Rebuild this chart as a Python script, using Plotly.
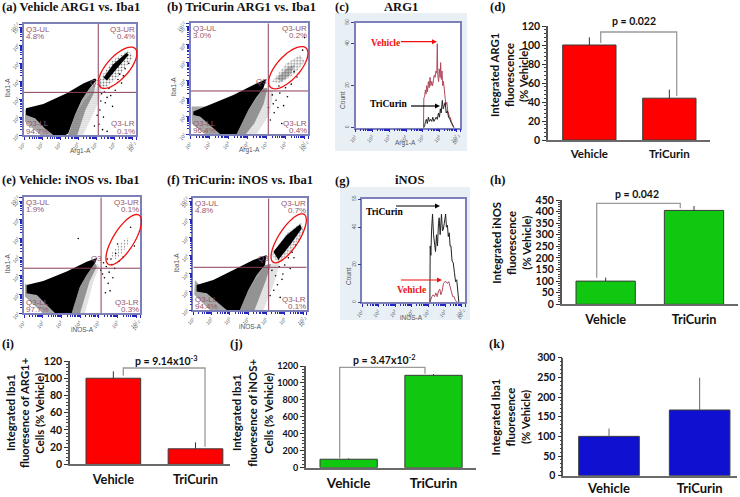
import math
import plotly.graph_objects as go

W, H = 740, 497
CATS = ["Vehicle", "TriCurin"]

# ---- bar panels: values
d_vals = [100, 44];   d_tops = [108, 53]
h_vals = [100, 405];  h_tops = [115, 424]
i_vals = [100, 18];   i_tops = [108, 25.5]
j_vals = [100, 1090]; j_tops = [110, 1105]
k_vals = [100, 167];  k_tops = [120, 249]

# ---- histogram panels (log10 intensity, count)
c_red_x = [5.03,5.05,5.1,5.14,5.18,5.22,5.27,5.32,5.37,5.42,5.47,5.52,5.57,5.62,5.67,5.72,5.77,5.82,5.85,5.88,5.93,5.97,6.02,6.05,6.09,6.13,6.17,6.22,6.27,6.32,6.37,6.42,6.47,6.52,6.57,6.62,6.68,6.74,6.84]
c_red_y = [0,14,15,18,16,20,17,22,19,24,20,22,20,23,25,24,27,26,40,25,22,28,24,31,23,27,20,22,16,14,11,12,8,7,5,5,3,2,0]
c_blk_x = [5.05,5.1,5.15,5.2,5.26,5.32,5.38,5.45,5.52,5.58,5.65,5.72,5.78,5.85,5.92,5.98,6.03,6.08,6.15,6.2,6.26,6.32,6.38,6.45,6.52,6.6,6.7,6.84]
c_blk_y = [0,1,3,4,2,5,3,4,3,5,3,4,5,4,7,5,9,7,13,9,11,12,7,8,5,4,2,0]
g_blk_x = [5.08,5.1,5.14,5.18,5.24,5.3,5.36,5.42,5.48,5.54,5.6,5.64,5.7,5.78,5.84,5.89,5.95,6.03,6.08,6.14,6.19,6.25,6.3,6.35,6.42,6.49,6.56,6.63,6.7,6.76,6.83]
g_blk_y = [0,30,25,38,47,36,31,27,36,30,42,45,36,47,38,39,42,47,40,41,35,37,30,30,22,21,16,11,12,5,0]
g_red_x = [5.08,5.14,5.2,5.28,5.36,5.44,5.52,5.6,5.68,5.74,5.82,5.9,5.98,6.06,6.14,6.22,6.3,6.38,6.46,6.54,6.62,6.72]
g_red_y = [0,2,3,4,3,5,3,6,7,4,6,10,11,11,10,11,8,5,3,3,1,0]

# ---- flow-cytometry clouds: outlines (log10 units)
a_main = [(1.11,2.49),(2.07,2.73),(3.36,3.33),(4.28,3.88),(4.93,4.16),(5.02,4.07),(4.56,3.51),(4.19,2.95),(3.82,2.12),(3.45,1.09),(3.3,1.0),(2.62,1.0),(2.16,1.37),(1.61,1.93),(1.11,2.12)]
a_right = [(4.38,2.95),(5.21,3.88),(5.30,3.33),(4.93,2.40),(4.28,1),(3.45,1),(3.82,2.12)]
a_inner = [(4.56,3.51),(5.0,3.95),(4.85,3.3),(4.4,2.4),(3.95,1),(3.45,1),(3.82,2.12),(4.19,2.95)]
a_left = [(1.05,2.45),(1.05,1.75),(1.9,1.0),(2.7,1.0),(1.61,1.93)]
a_ur_halo = [(5.21,4.16),(5.94,5.19),(6.77,5.74),(7.05,5.37),(6.31,4.35),(5.58,3.70),(5.21,3.60)]
a_ur_core = [(5.4,4.2),(5.94,4.95),(6.68,5.6),(6.8,5.48),(6.13,4.7),(5.6,4.05)]
a_dots_x = [5.3,5.5,5.6,5.2,5.9,5.4,5.7,6.2,6.3,6.4,6.6,5.25,5.45,5.15,5.8,6.05,6.5,5.35,6.8,5.05,4.9,5.6]
a_dots_y = [3.3,2.8,3.1,2.4,2.6,2.0,3.6,4.1,4.4,3.9,4.7,2.9,3.4,1.6,3.2,3.5,4.3,1.3,5.0,2.1,1.5,1.2]

b_main = [(1.14,2.27),(2.02,2.64),(3.25,3.20),(4.30,3.76),(5.0,4.09),(4.83,3.57),(4.48,3.10),(4.04,2.36),(3.69,1.61),(3.42,1),(2.55,1),(2.02,1.52),(1.49,1.99),(1.14,2.08)]
b_right = [(4.83,3.57),(5.35,3.48),(5.18,2.17),(4.48,1),(3.42,1),(4.04,2.36)]
b_inner = [(4.83,3.57),(5.05,3.6),(4.85,2.7),(4.35,1.6),(3.9,1),(3.42,1),(4.04,2.36),(4.48,3.10)]
b_left = [(1.05,2.55),(1.84,2.55),(1.49,1.99),(2.55,1),(1.75,1),(1.05,1.6)]
b_ur_halo = [(5.27,3.94),(6.06,4.97),(6.76,5.43),(7.02,5.06),(6.41,4.31),(5.71,3.85)]
b_ur_core = [(5.53,4.13),(6.15,4.78),(6.50,4.87),(6.23,4.31),(5.79,3.94)]
b_dots_x = [5.3,5.5,5.7,5.9,6.1,5.4,5.6,6.3,6.6,5.2,5.8,6.0,5.35,5.65,6.45,6.9,7.0,5.1]
b_dots_y = [3.2,2.9,3.3,2.6,3.1,2.2,2.5,3.8,4.2,1.8,1.6,3.6,2.7,3.7,4.5,5.7,6.4,2.5]

e_main = [(1.14,2.51),(2.03,2.73),(3.28,3.23),(4.35,3.76),(4.93,3.97),(4.79,3.67),(4.35,3.05),(3.99,2.42),(3.55,1),(2.66,1),(2.21,1.45),(1.68,1.98),(1.14,2.07)]
e_right = [(4.79,3.67),(5.06,3.58),(4.70,2.69),(4.26,1),(3.55,1),(3.99,2.42),(4.35,3.05)]
e_inner = [(4.79,3.67),(4.9,3.5),(4.5,2.7),(4.0,1),(3.55,1),(3.99,2.42),(4.35,3.05)]
e_left = [(1.05,2.60),(1.05,1.9),(2.0,1.0),(2.66,1),(2.21,1.45),(1.68,1.98)]
e_ur_halo = [(5.59,4.12),(6.30,4.92),(6.66,5.09),(6.57,4.65),(5.95,3.85)]
e_dots_x = [3.9,5.25,5.4,5.55,5.7,5.85,5.3,5.5,6.1,5.6,5.2,5.45,5.75,6.3,6.7,6.9,5.1,5.65,5.35,5.9,6.0]
e_dots_y = [5.0,3.7,3.5,3.2,3.6,3.4,2.9,2.6,3.8,2.2,3.1,3.9,2.9,4.0,5.6,4.6,3.3,3.9,2.1,4.2,4.7]

f_main = [(1.18,2.39),(2.09,2.67),(3.19,3.22),(4.28,3.78),(5.01,4.05),(4.92,3.50),(4.47,2.94),(4.01,2.11),(3.55,1),(2.82,1),(2.28,1.46),(1.73,1.93),(1.18,2.02)]
f_right = [(4.92,3.50),(5.74,3.68),(5.38,2.39),(4.83,1),(3.55,1),(4.01,2.11)]
f_inner = [(4.92,3.50),(5.25,3.55),(4.95,2.6),(4.35,1),(3.55,1),(4.01,2.11),(4.47,2.94)]
f_left = [(1.09,2.67),(1.05,1.85),(1.9,1),(2.82,1),(1.73,1.93)]
f_ur_halo = [(5.29,4.05),(6.11,5.26),(6.93,5.87),(7.02,5.35),(6.29,4.24),(5.65,3.59)]
f_ur_core = [(5.38,4.24),(6.11,5.16),(6.84,5.76),(6.93,5.53),(6.29,4.61),(5.65,3.78)]
f_dots_x = [5.3,5.5,5.7,5.9,6.2,6.4,6.6,5.6,5.85,6.0,5.4,5.2,6.5,6.8,5.75,6.3]
f_dots_y = [3.2,2.9,3.4,3.0,3.9,4.2,4.6,2.4,2.7,3.5,2.1,1.8,3.9,4.9,1.7,3.3]

fig = go.Figure()
layout = dict(width=W, height=H, margin=dict(l=0, r=0, t=0, b=0, autoexpand=False), autosize=False,
              paper_bgcolor="white", plot_bgcolor="white", showlegend=False)
shapes, annos = [], []
axn = [0]
SERIF = "Liberation Serif"
SANS = "Lato"
MAROON = "#96566e"


def px(x): return x / W
def py(y): return 1 - y / H


def text(x, y, s, size=10, color="black", family=SANS, bold=False, angle=0, xanchor="center"):
    annos.append(dict(x=px(x), y=py(y), xref="paper", yref="paper", text=s, showarrow=False,
                      xanchor=xanchor, yanchor="middle", textangle=angle,
                      font=dict(size=size, color=color, family=family,
                                weight="bold" if bold else "normal")))


def new_axes(box):
    axn[0] += 1
    n = axn[0]
    L, T, R, B = box
    xa, ya = ("xaxis%d" % n, "yaxis%d" % n)
    layout[xa] = dict(domain=[px(L), px(R)], anchor="y%d" % n)
    layout[ya] = dict(domain=[py(B), py(T)], anchor="x%d" % n)
    return "x%d" % n, "y%d" % n, xa, ya


def log_axis(ax):
    vals = [1, 2, 3, 4, 5, 6, 7, 7.2]
    txt = ["10<sup>%d</sup>" % v for v in vals[:-1]] + ["10<sup>7.2</sup>"]
    minor = [d + math.log10(k) for d in range(1, 8) for k in range(2, 10) if d + math.log10(k) < 7.2]
    ax.update(range=[1, 7.2], tickmode="array", tickvals=vals, ticktext=txt, tickangle=-45,
              tickfont=dict(size=5, color="#55606a", family="Liberation Sans"),
              ticks="outside", ticklen=3, tickcolor="#2525c0", tickwidth=1,
              minor=dict(tickmode="array", tickvals=minor, ticks="outside", ticklen=2,
                         tickcolor="#2525c0", tickwidth=1),
              showgrid=False, zeroline=False, showline=True, mirror=True,
              linecolor="#7d80b8", linewidth=1.5)


def poly(xr, yr, pts, solid=None):
    xs = [p[0] for p in pts] + [pts[0][0]]
    ys = [p[1] for p in pts] + [pts[0][1]]
    kw = dict(fillcolor="black") if solid is None else dict(
        fillpattern=dict(shape=".", size=solid[0], solidity=solid[1], fgcolor="black",
                         bgcolor="rgba(0,0,0,0)", fillmode="overlay"),
        fillcolor="rgba(0,0,0,0)")
    fig.add_trace(go.Scatter(x=xs, y=ys, xaxis=xr, yaxis=yr, mode="lines", fill="toself",
                             line=dict(width=0, color="black"), hoverinfo="skip", **kw))


def ellipse(cx, cy, a, b, deg):
    t = math.radians(deg)
    pts = []
    for i in range(49):
        u = 2 * math.pi * i / 48
        x = cx + a * math.cos(u) * math.cos(t) + b * math.sin(u) * math.sin(t)
        y = cy - a * math.cos(u) * math.sin(t) + b * math.sin(u) * math.cos(t)
        pts.append("%s%.5f,%.5f" % ("M" if i == 0 else "L", px(x), py(y)))
    shapes.append(dict(type="path", xref="paper", yref="paper", path=" ".join(pts) + " Z",
                       line=dict(color="#f01010", width=1.3)))


def flow_panel(box, main, right, inner, left, halo, core, core_solid, dots_x, dots_y, cross, ell, pcts, xname, q3):
    xr, yr, xa, ya = new_axes(box)
    log_axis(layout[xa]); log_axis(layout[ya])
    poly(xr, yr, right, (2, 0.28))
    poly(xr, yr, inner, (2, 0.7))
    poly(xr, yr, left, (2, 0.65))
    poly(xr, yr, halo, (3, 0.18 if core is None else 0.3))
    if core is not None:
        poly(xr, yr, core, None if core_solid else (2, 0.6))
    poly(xr, yr, main)
    fig.add_trace(go.Scatter(x=dots_x, y=dots_y, xaxis=xr, yaxis=yr, mode="markers",
                             marker=dict(size=1.6, color="black"), hoverinfo="skip"))
    # quadrant gates
    fig.add_trace(go.Scatter(x=[cross[0], cross[0]], y=[1, 7.2], xaxis=xr, yaxis=yr, mode="lines",
                             line=dict(color="#8c3f58", width=1), hoverinfo="skip"))
    fig.add_trace(go.Scatter(x=[1, 7.2], y=[cross[1], cross[1]], xaxis=xr, yaxis=yr, mode="lines",
                             line=dict(color="#8c3f58", width=1), hoverinfo="skip"))
    ellipse(*ell)
    L, T, R, B = box
    fs = 8
    text(L + 0, T + 5.5, "Q3-UL", fs, MAROON, "Liberation Sans", xanchor="left")
    text(L + 0, T + 12, pcts[0], fs, MAROON, "Liberation Sans", xanchor="left")
    text(R + 1, T + 5.5, "Q3-UR", fs, MAROON, "Liberation Sans", xanchor="right")
    text(R + 1, T + 12, pcts[1], fs, MAROON, "Liberation Sans", xanchor="right")
    text(L + 0, B - 11, "Q3-LL", fs, MAROON, "Liberation Sans", xanchor="left")
    text(L + 0, B - 3.5, pcts[2], fs, MAROON, "Liberation Sans", xanchor="left")
    text(R + 1, B - 11, "Q3-LR", fs, MAROON, "Liberation Sans", xanchor="right")
    text(R + 1, B - 3.5, pcts[3], fs, MAROON, "Liberation Sans", xanchor="right")
    text(q3[0], q3[1], "Q3", fs, MAROON, "Liberation Sans")
    text((L + R) / 2, B + 16, xname, 6.5, "#555", "Liberation Sans")
    text(L - 17, (T + B) / 2 + 8, "Iba1-A", 6.5, "#555", "Liberation Sans", angle=-90)


def hist_panel(bg, box, top, rx, ry, kx, ky, xname):
    shapes.append(dict(type="rect", xref="paper", yref="paper", x0=px(bg[0]), x1=px(bg[2]),
                       y0=py(bg[3]), y1=py(bg[1]), fillcolor="#e9f0f5", line_width=0, layer="below"))
    L, T, R, B = box
    shapes.append(dict(type="rect", xref="paper", yref="paper", x0=px(L), x1=px(R),
                       y0=py(B), y1=py(T), fillcolor="white", line_width=0, layer="below"))
    xr, yr, xa, ya = new_axes(box)
    log_axis(layout[xa])
    layout[ya].update(range=[0, top], tickmode="array", tickvals=[0, 20, 40, top],
                      tickangle=-90, tickfont=dict(size=5, color="#55606a", family="Liberation Sans"),
                      ticks="outside", ticklen=3, tickcolor="#3a3a90", showgrid=False, zeroline=False,
                      showline=True, mirror=True, linecolor="#7d80b8", linewidth=1.5)
    fig.add_trace(go.Scatter(x=rx, y=ry, xaxis=xr, yaxis=yr, mode="lines",
                             line=dict(color="#b04a5c", width=1), hoverinfo="skip"))
    fig.add_trace(go.Scatter(x=kx, y=ky, xaxis=xr, yaxis=yr, mode="lines",
                             line=dict(color="#222", width=1), hoverinfo="skip"))
    text((L + R) / 2 - 2, B + 15.5, xname, 6.5, "#555", "Liberation Sans")
    text(L - 14, (T + B) / 2 + 25, "Count", 6.5, "#555", "Liberation Sans", angle=-90)


def arrow(x0, x1, y, color):
    shapes.append(dict(type="path", xref="paper", yref="paper",
                       path="M%.5f,%.5f L%.5f,%.5f" % (px(x0), py(y), px(x1 - 3), py(y)),
                       line=dict(color=color, width=1.2)))
    shapes.append(dict(type="path", xref="paper", yref="paper", fillcolor=color, line_width=0,
                       path="M%.5f,%.5f L%.5f,%.5f L%.5f,%.5f Z" % (
                           px(x1 - 5), py(y - 2.5), px(x1), py(y), px(x1 - 5), py(y + 2.5))))


def bar_panel(box, bars, vals, tops, ymax, dtick, minor, color, bracket, ptext, ptxy, title, txy,
              tick_size=10.5, cat_size=13, err_color="#333", standoff=2):
    L, T, R, B = box
    xr, yr, xa, ya = new_axes(box)
    b0, b1 = bars
    c0, c1 = (b0[0] + b0[1]) / 2, (b1[0] + b1[1]) / 2
    sp = c1 - c0
    layout[xa].update(range=[(L - c0) / sp, (R - c0) / sp], type="category", categoryorder="array",
                      categoryarray=CATS, showline=True, linecolor="#6a6a6a", linewidth=2,
                      ticks="", showgrid=False, zeroline=False, ticklabelstandoff=standoff,
                      tickfont=dict(size=cat_size, family=SANS, color="#111", weight="bold"))
    layout[ya].update(range=[0, ymax], tickmode="linear", tick0=0, dtick=dtick, showgrid=False,
                      zeroline=False, showline=True, linecolor="#555", linewidth=1.5,
                      ticks="outside", ticklen=4, tickcolor="#333", tickwidth=1,
                      minor=dict(dtick=minor, ticks="outside", ticklen=2, tickcolor="#444", tickwidth=1),
                      tickfont=dict(size=tick_size, family=SANS, color="#111", weight="bold"))
    fig.add_trace(go.Bar(x=CATS, y=vals, xaxis=xr, yaxis=yr, width=(b0[1] - b0[0]) / sp,
                         marker=dict(color=color, line=dict(color="#3a3a3a", width=1)),
                         error_y=dict(type="data", symmetric=False,
                                      array=[t - v for t, v in zip(tops, vals)],
                                      arrayminus=[0, 0], width=0, thickness=1, color=err_color),
                         hoverinfo="skip"))
    if bracket:
        xa0, ya0, yt, xb, yb = bracket
        shapes.append(dict(type="path", xref="paper", yref="paper",
                           path="M%.5f,%.5f L%.5f,%.5f L%.5f,%.5f L%.5f,%.5f" % (
                               px(xa0), py(ya0), px(xa0), py(yt), px(xb), py(yt), px(xb), py(yb)),
                           line=dict(color="#9a9a9a", width=1.3)))
        text(ptxy[0], ptxy[1], ptext, 10.5, "#111", SANS, True)
    for line, x in zip(title, txy[:3]):
        text(x, txy[3], line, 11.3, "#111", SANS, True, angle=-90)


# flow panels
flow_panel((24, 24, 136, 135), a_main, a_right, a_inner, a_left, a_ur_halo, a_ur_core, True, a_dots_x, a_dots_y,
           (5.11, 3.38), (117.7, 67.7, 26, 11, 48),
           ("4.8%", "0.4%", "94.7%", "0.1%"), "Arg1-A", (95, 83))
flow_panel((190.7, 23.3, 308.3, 134.3), b_main, b_right, b_inner, b_left, b_ur_halo, b_ur_core, False, b_dots_x, b_dots_y,
           (5.09, 3.42), (288.3, 67.7, 26.5, 11.5, 48),
           ("3.0%", "0.2%", "96.4%", "0.4%"), "Arg1-A", (261, 82))
flow_panel((24, 197.3, 140, 313.3), e_main, e_right, e_inner, e_left, e_ur_halo, None, False, e_dots_x, e_dots_y,
           (5.12, 3.41), (123.7, 239.7, 29, 10.5, 58),
           ("1.9%", "0.1%", "97.7%", "0.3%"), "iNOS-A", (96, 258))
flow_panel((193.3, 198.3, 306.7, 310), f_main, f_right, f_inner, f_left, f_ur_halo, f_ur_core, True, f_dots_x, f_dots_y,
           (5.12, 3.37), (288.7, 238.3, 28.5, 10, 57),
           ("4.8%", "0.7%", "94.4%", "0.1%"), "iNOS-A", (263, 258))

# histograms
hist_panel((335, 13, 467, 151), (355.7, 22.7, 460, 127.7), 50, c_red_x, c_red_y, c_blk_x, c_blk_y, "Arg1-A")
hist_panel((340, 187, 470, 320), (362.3, 199, 465, 302.3), 55, g_red_x, g_red_y, g_blk_x, g_blk_y, "iNOS-A")
text(385, 42.7, "Vehicle", 9.5, "#f01010", SERIF, True)
arrow(401, 437, 41.7, "#f01010")
text(388.3, 104.3, "TriCurin", 9.5, "black", SERIF, True)
arrow(411, 440, 106, "black")
text(384, 211.7, "TriCurin", 9.5, "black", SERIF, True)
arrow(396, 440, 206, "black")
text(411.7, 290, "Vehicle", 9.5, "#f01010", SERIF, True)
arrow(401, 442, 280, "#f01010")

# bars
RED, GREEN, BLUE = "#ff0000", "#10c810", "#1010d0"
bar_panel((548, 26, 710, 140), ((562.7, 616), (642.7, 696)), d_vals, d_tops, 120, 20, 4, RED,
          (600.7, 43, 32, 676.7, 96), "p = 0.022", (634, 21),
          ["Integrated ARG1", "fluorescence", "(% Vehicle)"], (494, 509, 523, 75), cat_size=11.5)
bar_panel((561.7, 200, 738, 304.3), ((576, 635.3), (664.3, 723.7)), h_vals, h_tops, 450, 50, 10, GREEN,
          (596.7, 277.7, 203.3, 680.3, 208.3), "p = 0.042", (636.7, 194),
          ["Integrated iNOS", "fluorescence", "(% Vehicle)"], (495.7, 511, 525.7, 243), cat_size=12.7)
bar_panel((70, 361, 230, 464.3), ((86, 140.7), (168.3, 222.7)), i_vals, i_tops, 120, 20, 4, RED,
          (123.3, 375.7, 368, 205, 446.7), "p = 9.14x10<sup>-3</sup>", (166.7, 360),
          ["Integrated Iba1", "fluoresence of ARG1+", "Cells (% Vehicle)"], (10, 24, 38.7, 413), cat_size=12.8)
bar_panel((305.7, 366, 475.7, 467.7), ((320, 377.3), (405, 462)), j_vals, j_tops, 1200, 200, 40, GREEN,
          (339.7, 458.3, 367.3, 425, 373.7), "p = 3.47x10<sup>-2</sup>", (384, 359.3),
          ["Integrated Iba1", "fluoresence of iNOS+", "Cells (% Vehicle)"], (236, 251.7, 267.7, 413), tick_size=9, cat_size=13.5)
bar_panel((563.3, 357.7, 737, 475.7), ((578.7, 639.3), (669.3, 730)), k_vals, k_tops, 300, 50, 10, BLUE,
          None, "", (0, 0),
          ["Integrated Iba1", "fluoresence", "(% Vehicle)"], (495.7, 510.7, 525.3, 416.7), err_color="#666", standoff=0)

# titles
TS = 12.6
for x, y, s in [(0, 7, "(a) Vehicle ARG1 vs. Iba1"), (164.7, 7, "(b) TriCurin ARG1 vs. Iba1"),
                (333, 7, "(c)"), (0, 180, "(e) Vehicle: iNOS vs. Iba1"),
                (164.7, 180, "(f) TriCurin: iNOS vs. Iba1"), (333, 181, "(g)"),
                (488, 7, "(d)"), (488, 180, "(h)"), (0, 344, "(i)"), (228, 344, "(j)"), (487, 344, "(k)")]:
    text(x, y, s, TS, "#111", SERIF, True, xanchor="left")
text(401, 7, "ARG1", TS, "#111", SERIF, True)
text(409, 180, "iNOS", TS, "#111", SERIF, True)

layout["shapes"] = shapes
layout["annotations"] = annos
fig.update_layout(**layout)
fig.write_html("out.html", config=dict(displayModeBar=False),
               post_script="document.body.style.margin='0';")
